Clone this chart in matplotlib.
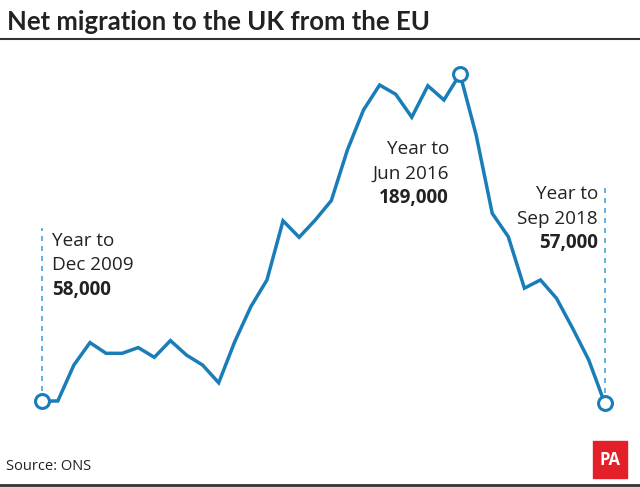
import matplotlib
matplotlib.use("Agg")
import matplotlib.pyplot as plt
from matplotlib.patches import Rectangle

# Quarterly net migration from the EU (thousands), year to Dec 2009 ... year to Sep 2018
periods = ["Dec 2009", "Mar 2010", "Jun 2010", "Sep 2010", "Dec 2010",
           "Mar 2011", "Jun 2011", "Sep 2011", "Dec 2011",
           "Mar 2012", "Jun 2012", "Sep 2012", "Dec 2012",
           "Mar 2013", "Jun 2013", "Sep 2013", "Dec 2013",
           "Mar 2014", "Jun 2014", "Sep 2014", "Dec 2014",
           "Mar 2015", "Jun 2015", "Sep 2015", "Dec 2015",
           "Mar 2016", "Jun 2016", "Sep 2016", "Dec 2016",
           "Mar 2017", "Jun 2017", "Sep 2017", "Dec 2017",
           "Mar 2018", "Jun 2018", "Sep 2018"]
values = [58, 58, 72.4, 81.4, 77.1, 77.1, 79.4, 75.5, 82.2, 76.4, 72.4, 65.3,
          81.8, 95.8, 106.5, 130.2, 123.6, 130.5, 138.3, 158.6, 174.6, 184.6,
          180.9, 171.7, 184.3, 178.6, 189, 164.6, 133.2, 123.8, 103.2, 106.5,
          99.1, 87.1, 74.4, 57]

annot_idx = [0, 26, 35]
annot_labels = [("Year to", "Dec 2009", "58,000"),
                ("Year to", "Jun 2016", "189,000"),
                ("Year to", "Sep 2018", "57,000")]

LINE = "#1a7db8"
DASH = "#4da6d6"
TXT = "#222222"
FONT = "Open Sans"

fig = plt.figure(figsize=(6.40, 4.87), dpi=100)
W, H = 640, 487

# axes spanning the whole figure; limits chosen so data maps onto the plot region
ax = fig.add_axes([0, 0, 1, 1])
dx = 16.09
x0px = 41.7
ppk = 2.496  # pixels per thousand
y58px = 401
ax.set_xlim(-x0px / dx, (W - x0px) / dx)
ax.set_ylim(58 - (H - y58px) / ppk, 58 + y58px / ppk)
ax.axis("off")

xs = list(range(len(values)))

def px_to_val(ypx):
    return 58 + (y58px - ypx) / ppk

# dashed guide lines
guide_tops = [228, 80, 183]
for i, top in zip(annot_idx, guide_tops):
    ax.plot([i, i], [values[i], px_to_val(top)], color=DASH, lw=1.2,
            ls=(0, (3, 3)), zorder=1)

ax.plot(xs, values, color=LINE, lw=2.5, solid_joinstyle="miter", zorder=2)
ax.plot([xs[i] for i in annot_idx], [values[i] for i in annot_idx], "o",
        ms=10, mfc="white", mec=LINE, mew=2.2, zorder=3)

# annotations (figure pixel positions)
def annot(xpx, ypx, lines, ha):
    fs = 13.6
    step = 24.5
    for k, t in enumerate(lines):
        fig.text(xpx / W, 1 - (ypx + k * step) / H, t, ha=ha, va="center",
                 fontsize=fs, color=TXT, family=FONT,
                 fontweight="bold" if k == 2 else "normal")

annot(52, 241, annot_labels[0], "left")
annot(449, 149, annot_labels[1], "right")
annot(598, 194, annot_labels[2], "right")

# title and rules
fig.text(7 / W, 1 - 22 / H, "Net migration to the UK from the EU", ha="left",
         va="center", fontsize=18.5, fontweight="bold", color=TXT, family="Lato")
fig.add_artist(plt.Line2D([0, 1], [1 - 38.5 / H] * 2, color="#333333", lw=1.5,
                          transform=fig.transFigure))
fig.add_artist(plt.Line2D([0, 1], [1 - 484.5 / H] * 2, color="#333333", lw=2,
                          transform=fig.transFigure))
fig.text(6 / W, 1 - 466 / H, "Source: ONS", ha="left", va="center",
         fontsize=10.5, color=TXT, family=FONT)

# PA logo
fig.add_artist(Rectangle((593 / W, 1 - 478 / H), 34 / W, 37 / H,
                         transform=fig.transFigure, color="#e3202a"))
fig.text(610 / W, 1 - 460 / H, "PA", ha="center", va="center", fontsize=12,
         fontweight="bold", color="white", family=FONT)

fig.savefig("out.png", dpi=100)
